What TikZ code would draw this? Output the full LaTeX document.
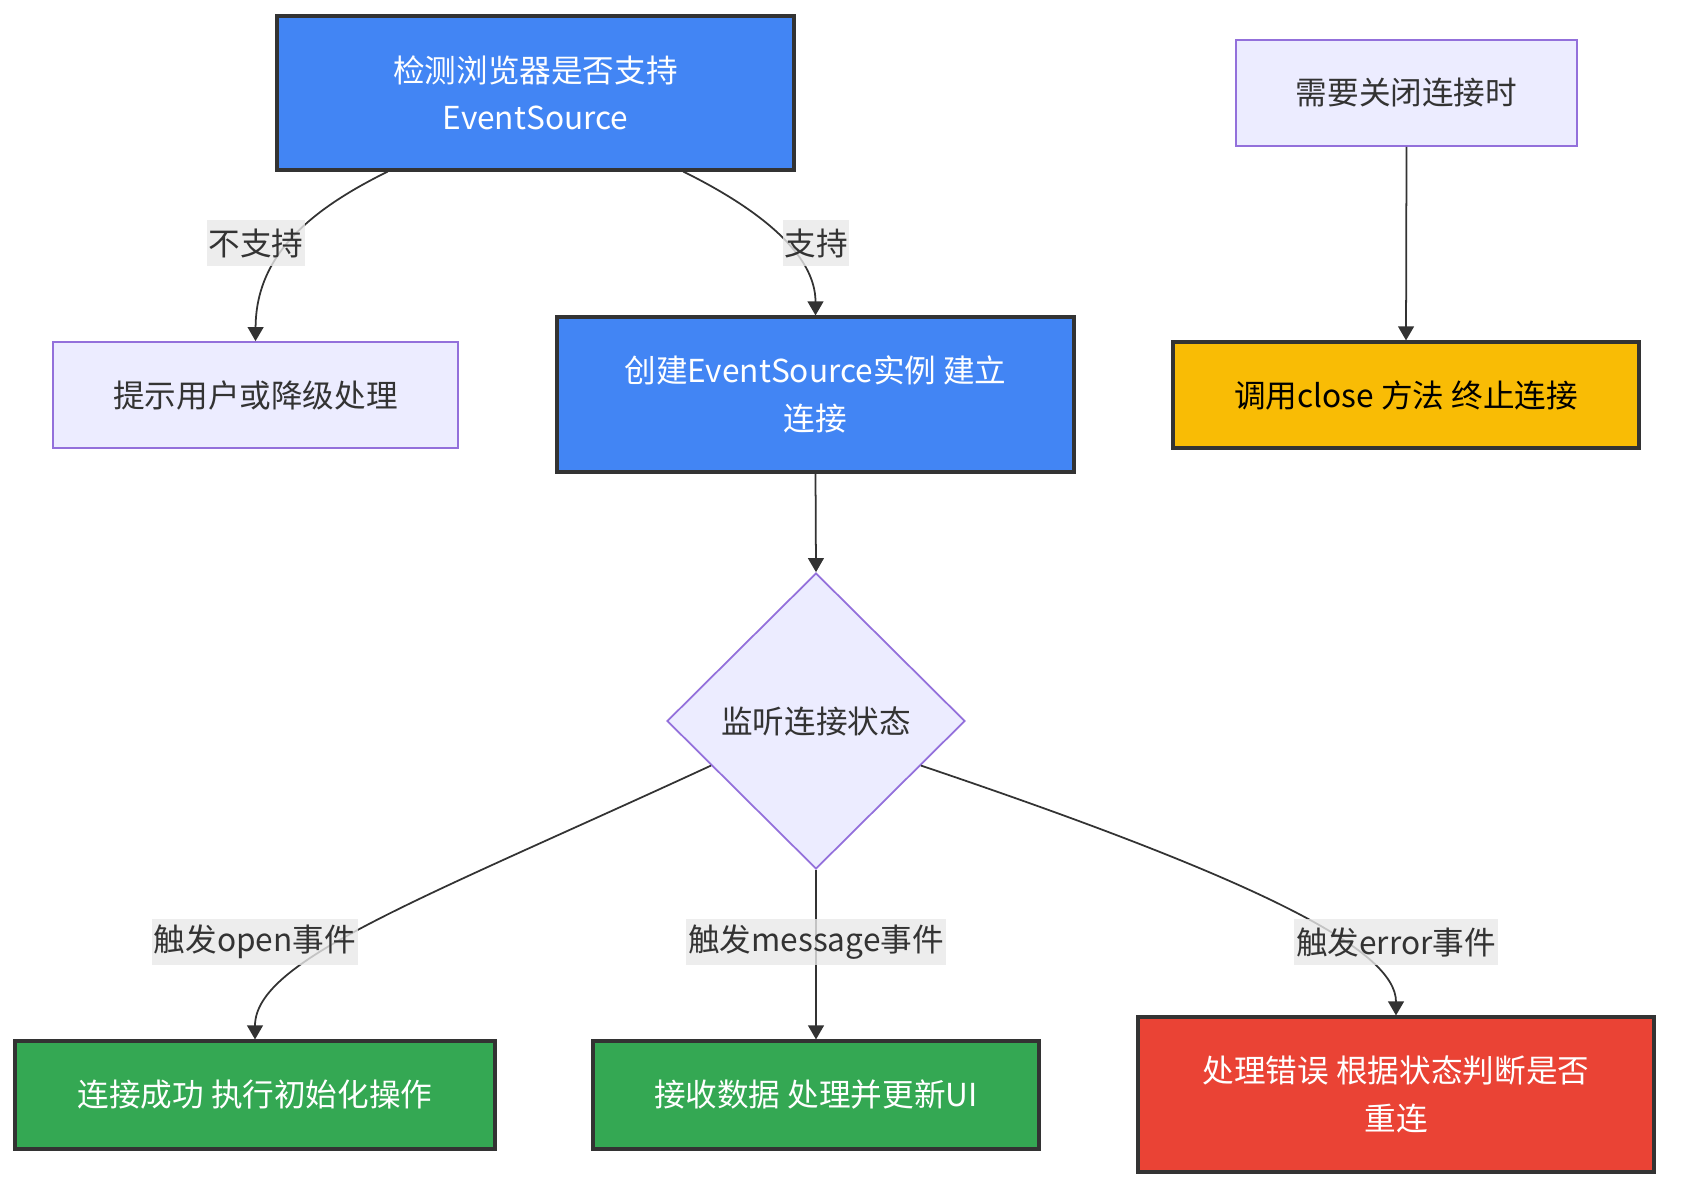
\documentclass[tikz,border=0pt]{standalone}
\usepackage{fontspec}
\setmainfont{Noto Sans CJK SC}
\usetikzlibrary{shapes.geometric,arrows.meta}
\definecolor{gblue}{HTML}{4285F4}
\definecolor{gyellow}{HTML}{F9BC05}
\definecolor{ggreen}{HTML}{34A853}
\definecolor{gred}{HTML}{EA4335}
\definecolor{lilac}{HTML}{9370DB}
\definecolor{lightlilac}{HTML}{ECECFF}
\definecolor{ink}{HTML}{333333}
\definecolor{lblgray}{HTML}{E8E8E8}
\newcommand{\txt}{\fontsize{18pt}{27pt}\selectfont}
\begin{document}
\begin{tikzpicture}[
    x=0.02cm, y=-0.02cm,
    box/.style={draw=ink, line width=1.8pt, align=center, font=\txt,
                text=white, inner sep=0pt},
    soft/.style={draw=lilac, fill=lightlilac, line width=1pt, align=center,
                 font=\txt, text=ink, inner sep=0pt},
    lbl/.style={fill=lblgray, fill opacity=0.8, text opacity=1, text=ink,
                font=\txt, inner xsep=1pt, inner ysep=0pt, minimum height=0.92cm},
    arr/.style={-{Triangle[length=8pt,width=9pt]}, line width=1pt, draw=ink}
  ]
    \useasboundingbox (0,0) rectangle (1682,1196);

    \node[box, fill=gblue, minimum width=10.34cm, minimum height=3.08cm]
        (detect) at (535.5,93) {检测浏览器是否支持\\EventSource};
    \node[soft, minimum width=6.82cm, minimum height=2.12cm]
        (needclose) at (1406.5,93) {需要关闭连接时};
    \node[soft, minimum width=8.10cm, minimum height=2.12cm]
        (fallback) at (255.5,395) {提示用户或降级处理};
    \node[box, fill=gblue, minimum width=10.34cm, minimum height=3.10cm]
        (create) at (815.5,394.5) {创建EventSource实例 建立\\连接};
    \node[box, fill=gyellow, text=black, minimum width=9.32cm, minimum height=2.12cm]
        (doclose) at (1406,395) {调用close 方法 终止连接};
    \node[soft, shape=diamond, minimum width=5.96cm, minimum height=5.92cm]
        (listen) at (816,721) {监听连接状态};
    \node[box, fill=ggreen, minimum width=9.60cm, minimum height=2.16cm]
        (onopen) at (255,1095) {连接成功 执行初始化操作};
    \node[box, fill=ggreen, minimum width=8.92cm, minimum height=2.16cm]
        (onmsg) at (816,1095) {接收数据 处理并更新UI};
    \node[box, fill=gred, minimum width=10.32cm, minimum height=3.10cm]
        (onerr) at (1396,1094.5) {处理错误 根据状态判断是否\\重连};

    % connectors
    \draw[arr] (detect.208) .. controls (310,210) and (256,255) .. (fallback.north);
    \draw[arr] (detect.332) .. controls (761,210) and (815.5,255) .. (create.north);
    \draw[arr] (create.south) -- (listen.north);
    \draw[arr] (needclose.south) -- (doclose.north);
    \draw[arr] (listen.203) .. controls (420,900) and (255,960) .. (onopen.north);
    \draw[arr] (listen.south) -- (onmsg.north);
    \draw[arr] (listen.337) .. controls (1260,880) and (1396,950) .. (onerr.north);

    % edge labels
    \node[lbl] (lno)   at (256,243)  {不支持};
    \node[lbl] (lyes)  at (816,243)  {支持};
    \node[lbl] (lopen) at (255,942)  {触发open事件};
    \node[lbl] (lmsg)  at (816,942)  {触发message事件};
    \node[lbl] (lerr)  at (1396,942) {触发error事件};
  \end{tikzpicture}
\end{document}
